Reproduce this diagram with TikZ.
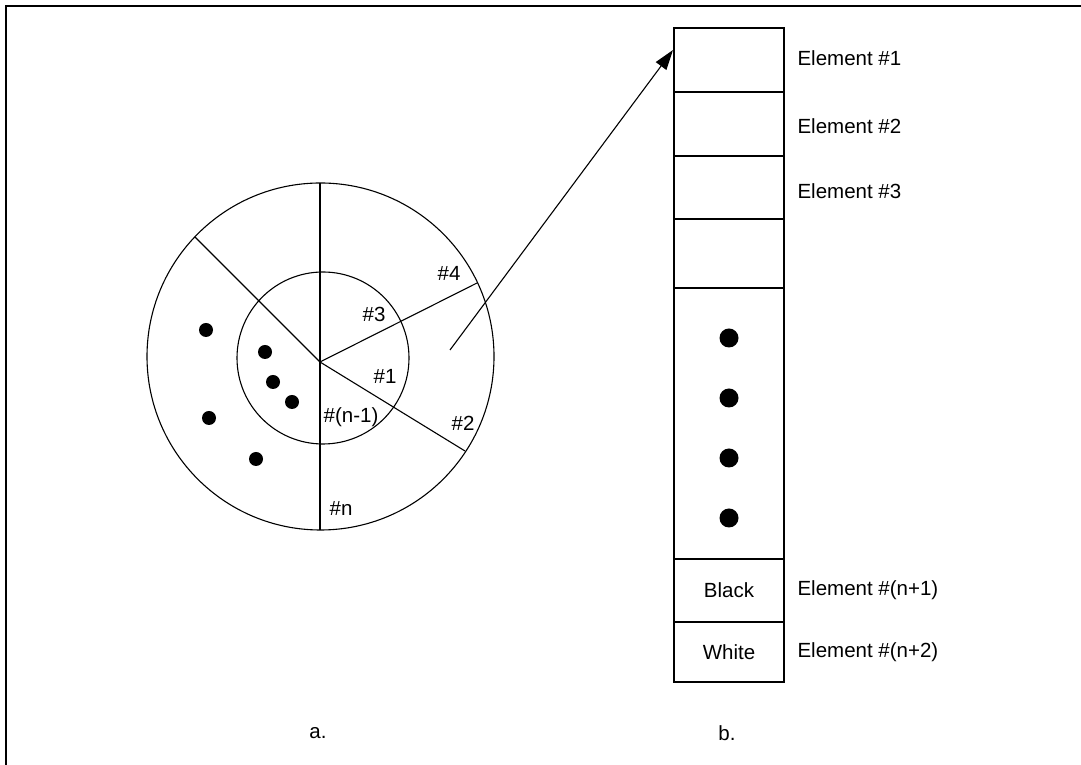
\documentclass[tikz,border=0pt]{standalone}
\usepackage{fontspec}
\setmainfont{Liberation Sans}
\usetikzlibrary{positioning,arrows.meta}

\begin{document}
\begin{tikzpicture}[x=1pt, y=1pt, line width=1.1pt,
    cell/.style={draw, minimum width=110pt, inner sep=0pt, outer sep=0pt},
    lbl/.style={font=\fontsize{20.5}{24}\selectfont, inner sep=0pt}]
    \useasboundingbox (0,0) rectangle (1081,765);
    % open frame
    \draw[line width=2.2pt] (6,0) -- (6,759) -- (1081,759);

    % sectored disc
    \draw (320.5,408.5) circle (173.5);
    \draw (323,407) circle (86);
    \coordinate (hub) at (320,403);
    \coordinate (top) at (320,582);
    \coordinate (bot) at (320,235);
    \coordinate (ul) at (195,528);
    \coordinate (ru) at (477,482);
    \coordinate (lr) at (465,314);
    \foreach \e in {top,bot,ul,ru,lr} {
        \draw (hub) -- (\e);
    }
    \foreach \p in {(206,435),(265,413),(273,383),(292,363),(209,347),(256,306)} {
        \fill \p circle (7);
    }
    \node[lbl] (s4) at (449,492) {\#4};
    \node[lbl] (s3) at (374,451) {\#3};
    \node[lbl] (s1) at (385,389) {\#1};
    \node[lbl] (s2) at (463,342) {\#2};
    \node[lbl] (sn1) at (351,348) {\#(n-1)};
    \node[lbl] (sn) at (341,257) {\#n};

    % element column
    \foreach \n/\yc/\h/\t in {c1/705/64/, c2/641/64/, c3/577.5/63/, c4/511.5/69/,
                              c5/341.5/271/, c6/174.5/63/Black, c7/113/60/White} {
        \node[cell, lbl, draw, minimum height=\h pt] (\n) at (729,\yc) {\t};
    }
    \foreach \y in {427,367,307,247} {
        \fill (729,\y) circle (9.5);
    }
    \node[lbl, right=13pt of c1, yshift=2pt] (e1) {Element \#1};
    \node[lbl, right=13pt of c2, yshift=-2pt] (e2) {Element \#2};
    \node[lbl, right=13pt of c3, yshift=-4pt] (e3) {Element \#3};
    \node[lbl, right=13pt of c6] (e6) {Element \#(n+1)};
    \node[lbl, right=13pt of c7] (e7) {Element \#(n+2)};

    % pointer into the table
    \coordinate (ptr) at (450,415);
    \coordinate (tip) at (673,715);
    \draw[-{Triangle[length=20pt,width=13pt]}] (ptr) -- (tip);

    \node[lbl] (capa) at (318,32) {a.};
    \node[lbl] (capb) at (727,32) {b.};
\end{tikzpicture}
\end{document}
